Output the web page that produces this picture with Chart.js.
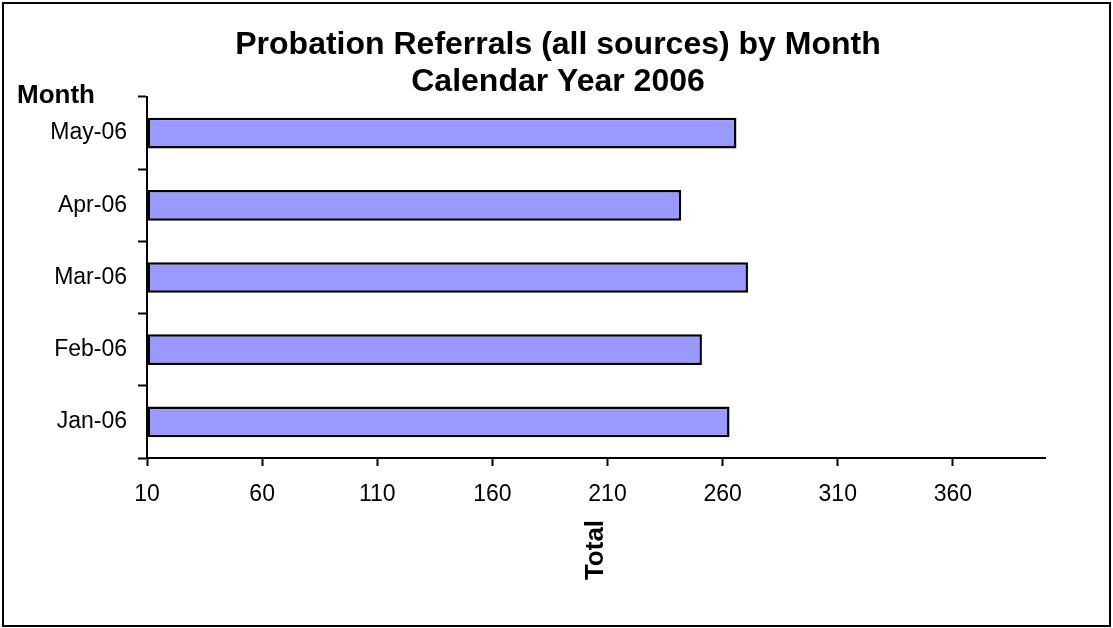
<!DOCTYPE html>
<html>
<head>
<meta charset="utf-8">
<script src="https://cdn.jsdelivr.net/npm/chart.js@4/dist/chart.umd.min.js"></script>
<style>
  html, body { margin: 0; padding: 0; background: #fff; }
  #wrap { width: 1113px; height: 628px; }
</style>
</head>
<body>
<div id="wrap"><canvas id="chart" width="1113" height="628"></canvas></div>
<script>
const months = ['Jan-06', 'Feb-06', 'Mar-06', 'Apr-06', 'May-06'];
const totals = [263, 251, 271, 242, 266];
const xTicks = [10, 60, 110, 160, 210, 260, 310, 360];
const titleLines = ['Probation Referrals (all sources) by Month', 'Calendar Year 2006'];

const FONT = '"Liberation Sans", Arial, sans-serif';
Chart.defaults.font.family = FONT;
Chart.defaults.color = '#000';

// titles, axis captions and the outer frame
const textPlugin = {
  id: 'texts',
  afterDraw(chart) {
    const ctx = chart.ctx;
    ctx.save();
    ctx.fillStyle = '#000';
    ctx.textBaseline = 'middle';

    ctx.font = 'bold 32px ' + FONT;
    ctx.textAlign = 'center';
    ctx.fillText(titleLines[0], 558, 45);
    ctx.fillText(titleLines[1], 558, 82);

    ctx.font = 'bold 26px ' + FONT;
    ctx.textAlign = 'left';
    ctx.fillText('Month', 17, 96);

    ctx.translate(596, 550);
    ctx.rotate(-Math.PI / 2);
    ctx.textAlign = 'center';
    ctx.fillText('Total', 0, 0);
    ctx.restore();

    ctx.save();
    ctx.strokeStyle = '#000';
    ctx.lineWidth = 2;
    ctx.strokeRect(3, 3, 1107, 623);
    ctx.restore();
  }
};

const ctx = document.getElementById('chart').getContext('2d');

const chart = new Chart(ctx, {
  type: 'bar',
  data: {
    labels: months,
    datasets: [{
      data: totals,
      base: 10,
      backgroundColor: '#9999FF',
      borderColor: '#000',
      borderWidth: 2.5,
      borderSkipped: false,
      barPercentage: 0.425,
      categoryPercentage: 1
    }]
  },
  options: {
    indexAxis: 'y',
    responsive: false,
    animation: false,
    devicePixelRatio: 1,
    layout: {
      padding: { left: 0, right: 68, top: 97, bottom: 0 }
    },
    scales: {
      x: {
        type: 'linear',
        min: 10,
        max: 400,
        afterBuildTicks: (scale) => {
          scale.ticks = xTicks.map(v => ({ value: v }));
        },
        afterFit: (scale) => { scale.height = 170; },
        grid: {
          drawOnChartArea: false,
          drawTicks: true,
          tickLength: 8,
          tickColor: '#000',
          tickWidth: 2
        },
        border: { display: true, color: '#000', width: 2 },
        ticks: {
          font: { size: 23 },
          color: '#000',
          padding: 15,
          maxRotation: 0,
          autoSkip: false
        }
      },
      y: {
        reverse: true,
        afterFit: (scale) => { scale.width = 147; },
        grid: {
          offset: true,
          drawOnChartArea: false,
          drawTicks: true,
          tickLength: 9,
          tickColor: '#000',
          tickWidth: 2
        },
        border: { display: true, color: '#000', width: 2 },
        ticks: {
          font: { size: 23 },
          color: '#000',
          padding: 11
        }
      }
    },
    plugins: {
      legend: { display: false },
      tooltip: { enabled: false }
    }
  },
  plugins: [textPlugin]
});
</script>
</body>
</html>
